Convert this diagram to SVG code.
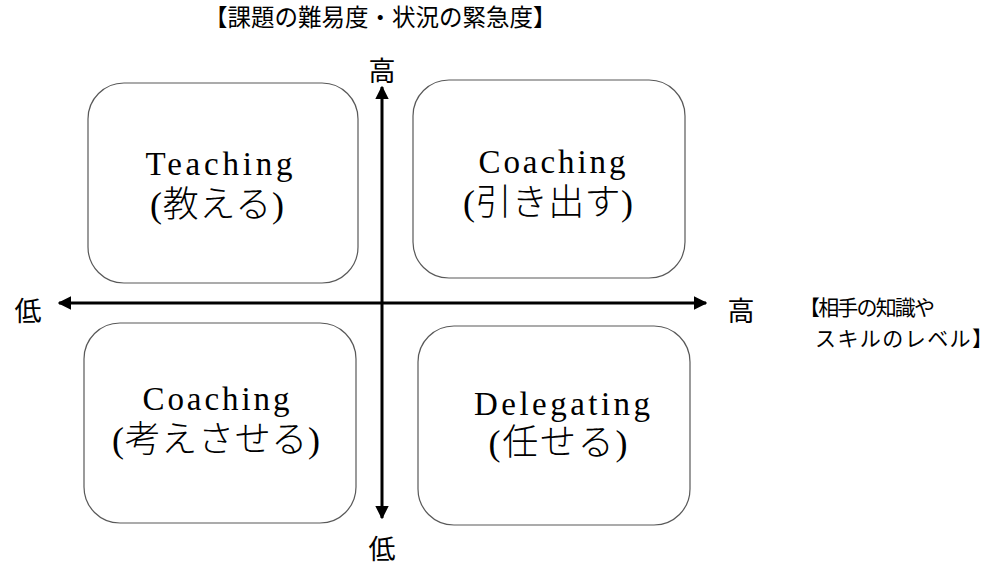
<svg xmlns="http://www.w3.org/2000/svg" width="1000" height="565" viewBox="0 0 1000 565">
<style>
.box{fill:#fff;stroke:#595959;stroke-width:1.2}
.en{font-family:"Liberation Serif","Noto Sans CJK JP",serif;font-size:33px;fill:#000;text-anchor:middle}
.jp{font-family:"Liberation Serif","Noto Sans CJK JP",serif;font-size:36px;font-weight:300;fill:#000;text-anchor:middle}
.ax{font-family:"Noto Sans CJK JP",sans-serif;font-size:27px;fill:#000;text-anchor:middle}
.lbl{font-family:"Noto Sans CJK JP",sans-serif;font-size:21px;fill:#000}
.axis{stroke:#000;stroke-width:3;fill:none}
</style>
<defs>
<marker id="ah" viewBox="0 0 10 10" refX="9" refY="5" markerWidth="4.5" markerHeight="4.5" orient="auto-start-reverse" markerUnits="strokeWidth">
<path d="M0,0 L10,5 L0,10 z" fill="#000"/>
</marker>
</defs>
<rect width="1000" height="565" fill="#fff"/>
<g id="teaching">
<rect class="box" x="88" y="83" width="270" height="200" rx="36" ry="36"/>
<text class="en" x="219" y="175" textLength="147" lengthAdjust="spacing">Teaching</text>
<text class="jp" x="217" y="217" textLength="134" lengthAdjust="spacing">(教える)</text>
</g>
<g id="coaching-high">
<rect class="box" x="413" y="80" width="272" height="198" rx="36" ry="36"/>
<text class="en" x="552" y="173" textLength="147" lengthAdjust="spacing">Coaching</text>
<text class="jp" x="548" y="215" textLength="170" lengthAdjust="spacing">(引き出す)</text>
</g>
<g id="coaching-low">
<rect class="box" x="84" y="323" width="272" height="200" rx="36" ry="36"/>
<text class="en" x="216" y="410" textLength="147" lengthAdjust="spacing">Coaching</text>
<text class="jp" x="216" y="452" textLength="208" lengthAdjust="spacing">(考えさせる)</text>
</g>
<g id="delegating">
<rect class="box" x="418" y="326" width="272" height="199" rx="36" ry="36"/>
<text class="en" x="562" y="415" textLength="176" lengthAdjust="spacing">Delegating</text>
<text class="jp" x="558" y="455" textLength="139" lengthAdjust="spacing">(任せる)</text>
</g>
<g id="connectors">
<line class="axis" x1="59" y1="303" x2="706" y2="303" marker-start="url(#ah)" marker-end="url(#ah)"/>
<line class="axis" x1="382" y1="87" x2="382" y2="518" marker-start="url(#ah)" marker-end="url(#ah)"/>
</g>
<g id="axis-labels">
<text class="ax" x="382" y="81">高</text>
<text class="ax" x="382" y="559">低</text>
<text class="ax" x="28" y="321">低</text>
<text class="ax" x="741" y="321">高</text>
</g>
<g id="titles">
<text class="lbl" x="204" y="26" style="font-size:23.5px">【課題の難易度・状況の緊急度】</text>
<text class="lbl" x="799" y="315" textLength="136" lengthAdjust="spacing">【相手の知識や</text>
<text class="lbl" x="815" y="346" textLength="178" lengthAdjust="spacing">スキルのレベル】</text>
</g>
</svg>
